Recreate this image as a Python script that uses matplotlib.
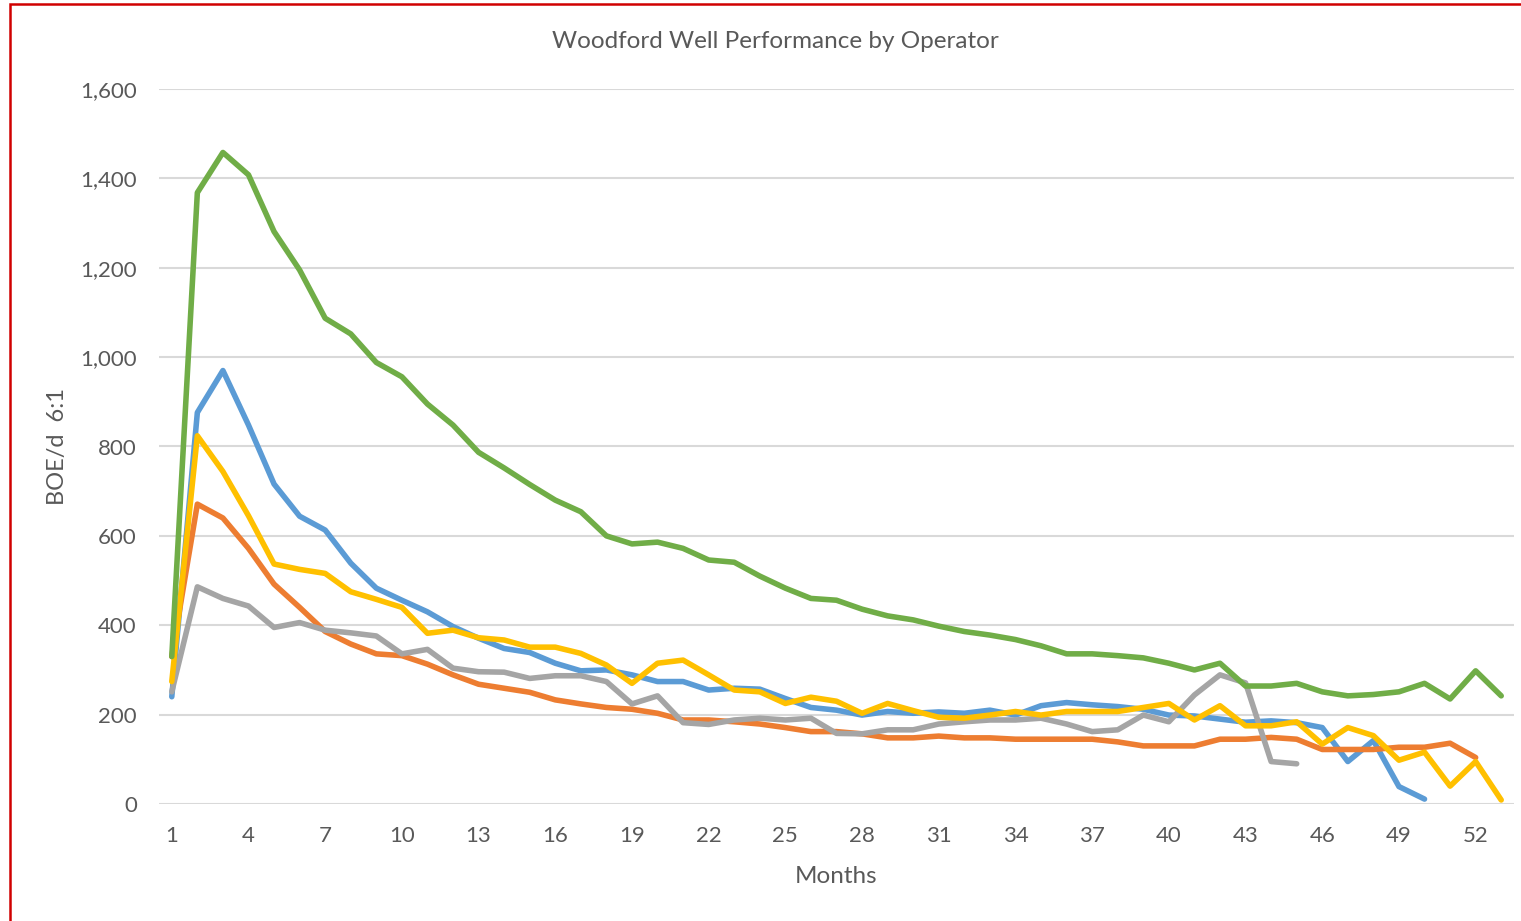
"""Woodford well performance by operator (BOE/d vs months)."""
import matplotlib
matplotlib.use("Agg")
import matplotlib.pyplot as plt
from matplotlib.patches import Rectangle
from matplotlib.ticker import FuncFormatter

blue = [240, 876, 970, 848, 716, 644, 613, 539, 483, 456, 430, 397, 371, 348,
        339, 315, 298, 300, 289, 274, 274, 255, 259, 257, 236, 216, 210, 199,
        207, 203, 206, 203, 210, 199, 220, 227, 222, 218, 212, 199, 197, 190,
        183, 186, 182, 171, 95, 142, 39, 11]
orange = [330, 671, 640, 572, 492, 440, 386, 358, 336, 332, 313, 289, 268, 259,
          250, 233, 224, 216, 212, 203, 188, 188, 184, 179, 171, 162, 162, 157,
          148, 148, 152, 148, 148, 145, 145, 145, 145, 139, 130, 130, 130, 145,
          145, 149, 145, 122, 122, 122, 127, 127, 136, 104]
gray = [251, 486, 460, 443, 395, 406, 389, 383, 376, 336, 346, 304, 296, 295,
        281, 287, 287, 274, 224, 242, 182, 178, 188, 192, 188, 192, 158, 157,
        166, 166, 179, 184, 188, 188, 192, 179, 162, 166, 199, 184, 244, 289,
        271, 95, 90]
yellow = [274, 824, 744, 645, 537, 525, 516, 475, 458, 440, 382, 389, 372, 367,
          351, 351, 337, 311, 270, 315, 322, 289, 255, 251, 225, 239, 230, 203,
          225, 209, 194, 192, 199, 207, 199, 207, 207, 207, 216, 225, 188, 220,
          175, 175, 184, 134, 171, 153, 98, 116, 40, 95, 9]
green = [330, 1368, 1458, 1408, 1281, 1195, 1087, 1052, 988, 956, 895, 848, 787,
         752, 715, 680, 654, 600, 582, 586, 572, 546, 541, 510, 483, 460, 456,
         436, 421, 412, 398, 386, 378, 368, 354, 336, 336, 332, 327, 315, 300,
         315, 264, 264, 270, 251, 242, 245, 251, 270, 235, 298, 242]

series = [
    (blue, "#5B9BD5"),
    (orange, "#ED7D31"),
    (gray, "#A5A5A5"),
    (yellow, "#FFC000"),
    (green, "#70AD47"),
]
x_ticks = list(range(1, 54, 3))
y_ticks = [0, 200, 400, 600, 800, 1000, 1200, 1400, 1600]

plt.rcParams["font.family"] = ["Lato", "DejaVu Sans"]
text_color = "#595959"

fig = plt.figure(figsize=(15.21, 9.21), dpi=100)
ax = fig.add_axes([159 / 1521, 117 / 921, 1355 / 1521, 715 / 921])

for values, color in series:
    months = list(range(1, len(values) + 1))
    ax.plot(months, values, color=color, linewidth=4.0,
            solid_capstyle="round", solid_joinstyle="round")

ax.set_xlim(0.5, 53.5)
ax.set_ylim(0, 1600)
ax.set_xticks(x_ticks)
ax.set_yticks(y_ticks)
ax.yaxis.set_major_formatter(FuncFormatter(lambda v, _: f"{v:,.0f}"))
ax.tick_params(length=0, labelsize=16, labelcolor=text_color, pad=16)
ax.grid(True, axis="y", color="#D9D9D9", linewidth=1.5)
ax.set_axisbelow(True)
for s in ax.spines.values():
    s.set_visible(False)

ax.set_xlabel("Months", fontsize=17.5, color=text_color, labelpad=14)
ax.set_ylabel("BOE/d  6:1", fontsize=17, color=text_color, labelpad=9)
fig.text(775 / 1521, 1 - 42 / 921, "Woodford Well Performance by Operator",
         fontsize=17.5, color=text_color, ha="center", va="center")

# chart area border
fig.patches.append(Rectangle((10 / 1521, -0.05), 1.2, 1 - 4 / 921 + 0.05,
                             transform=fig.transFigure, fill=False,
                             edgecolor="#D00000", linewidth=1.8))

fig.savefig("out.png", dpi=100)
